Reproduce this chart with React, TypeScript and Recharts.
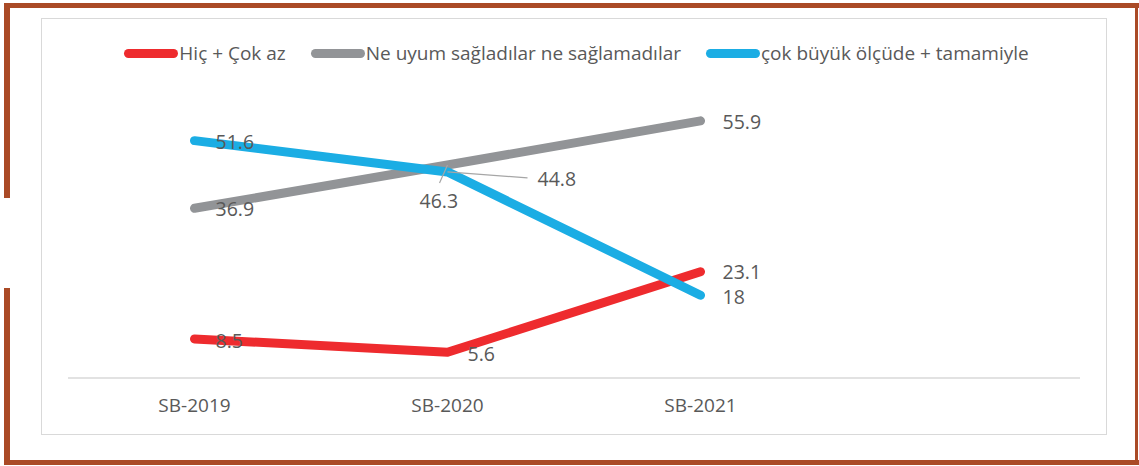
import React from 'react';
import { LineChart, Line, XAxis, YAxis, Legend, LabelList } from 'recharts';

const CATEGORIES = ['SB-2019', 'SB-2020', 'SB-2021', ''];
const HIC_COK_AZ = [8.5, 5.6, 23.1, null];
const NE_UYUM = [36.9, 46.3, 55.9, null];
const COK_BUYUK = [51.6, 44.8, 18, null];

const SERIES = [
  { key: 'hic', name: 'Hiç + Çok az', color: '#EE2B2E', values: HIC_COK_AZ },
  { key: 'neUyum', name: 'Ne uyum sağladılar ne sağlamadılar', color: '#929497', values: NE_UYUM },
  { key: 'cokBuyuk', name: 'çok büyük ölçüde + tamamiyle', color: '#1BADE4', values: COK_BUYUK },
];

// label placement per point: [dx to text start, dy to text centre, leader dx, leader dy]
const LABEL_POS: Record<string, number[][]> = {
  hic: [[21, 2], [20, 2], [22, 0]],
  neUyum: [[21, 1], [-28, 36, -8, 18], [22, 1]],
  cokBuyuk: [[21, 2], [90, 7, 80, 6], [22, 2]],
};

const FONT = '"Open Sans", sans-serif';
const TEXT = '#595959';
const BROWN = '#AA4A26';

const data = CATEGORIES.map((cat, i) => {
  const row: Record<string, string | number | null> = { cat };
  SERIES.forEach((s) => {
    row[s.key] = s.values[i];
  });
  return row;
});

const makeLabel = (seriesKey: string) => (props: any) => {
  const { value, index } = props;
  if (value === null || value === undefined) return null;
  const x = props.viewBox?.x ?? props.x;
  const y = props.viewBox?.y ?? props.y;
  const pos = LABEL_POS[seriesKey][index];
  if (!pos) return null;
  const [dx, dy, lx, ly] = pos;
  return (
    <g>
      {lx !== undefined && (
        <line x1={x + lx} y1={y + ly} x2={x} y2={y} stroke="#a6a6a6" strokeWidth={1.2} />
      )}
      <text
        x={x + dx}
        y={y + dy}
        dy="0.35em"
        textAnchor="start"
        fontSize={19.5}
        fontFamily={FONT}
        fill={TEXT}
      >
        {value}
      </text>
    </g>
  );
};

const renderLegend = () => (
  <div
    style={{
      height: 26,
      display: 'flex',
      justifyContent: 'center',
      alignItems: 'center',
      fontFamily: FONT,
      fontSize: 19,
      color: TEXT,
      paddingLeft: 14,
      whiteSpace: 'nowrap',
    }}
  >
    {SERIES.map((s, i) => (
      <div
        key={s.key}
        style={{ display: 'flex', alignItems: 'center', marginLeft: i === 0 ? 0 : 25 }}
      >
        <span
          style={{
            display: 'inline-block',
            width: 54,
            height: 9,
            borderRadius: 4.5,
            background: s.color,
            marginRight: 1,
          }}
        />
        <span>{s.name}</span>
      </div>
    ))}
  </div>
);

export default function App() {
  return (
    <div
      style={{
        position: 'absolute',
        left: 0,
        top: 0,
        width: 1139,
        height: 466,
        background: '#fff',
        overflow: 'hidden',
      }}
    >
      {/* outer brown frame */}
      <div style={{ position: 'absolute', left: 4, top: 3, width: 1135, height: 5, background: BROWN }} />
      <div style={{ position: 'absolute', left: 4, top: 3, width: 6, height: 195, background: BROWN }} />
      <div style={{ position: 'absolute', left: 4, top: 288, width: 6, height: 177, background: BROWN }} />
      <div style={{ position: 'absolute', left: 4, top: 460, width: 1135, height: 5, background: BROWN }} />
      <div style={{ position: 'absolute', left: 1135, top: 3, width: 3, height: 462, background: BROWN }} />
      {/* chart area border */}
      <div
        style={{
          position: 'absolute',
          left: 41,
          top: 18,
          width: 1064,
          height: 415,
          border: '1.5px solid #d9d9d9',
        }}
      />
      <div style={{ position: 'absolute', left: 0, top: 0 }}>
        <LineChart
          width={1139}
          height={466}
          data={data}
          margin={{ top: 76, right: 59, bottom: 0, left: 68 }}
        >
          <XAxis
            dataKey="cat"
            scale="band"
            height={88}
            axisLine={{ stroke: '#d9d9d9', strokeWidth: 1.5 }}
            tickLine={false}
            tickSize={6}
            tickMargin={15}
            tick={{ fill: TEXT, fontSize: 19, fontFamily: FONT }}
            interval={0}
          />
          <YAxis hide domain={[0, 60]} />
          <Legend
            verticalAlign="top"
            content={renderLegend}
            wrapperStyle={{ top: 40, left: 0, width: 1139 }}
          />
          {SERIES.map((s) => (
            <Line
              key={s.key}
              type="linear"
              dataKey={s.key}
              name={s.name}
              stroke={s.color}
              strokeWidth={9}
              strokeLinecap="round"
              strokeLinejoin="round"
              dot={false}
              activeDot={false}
              isAnimationActive={false}
            >
              <LabelList dataKey={s.key} content={makeLabel(s.key)} />
            </Line>
          ))}
        </LineChart>
      </div>
    </div>
  );
}
